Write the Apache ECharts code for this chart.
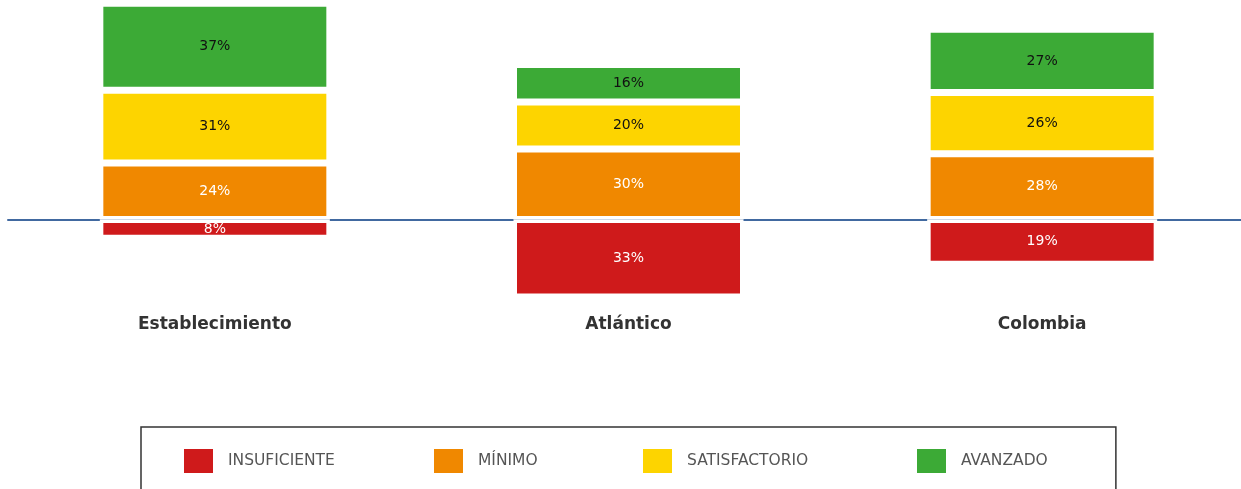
<!DOCTYPE html>
<html>
<head>
<meta charset="utf-8">
<script src="https://cdn.jsdelivr.net/npm/echarts@6/dist/echarts.min.js"></script>
<style>
html, body { margin: 0; padding: 0; background: #fff; overflow: hidden; }
/* chart box runs a bit past the window top and right, like the original crop */
#main { position: absolute; left: 0; top: -20px; width: 1249px; height: 509px; }
</style>
</head>
<body>
<div id="main"></div>
<script>
var categories = ['Establecimiento', 'Atlántico', 'Colombia']
var levels = ['INSUFICIENTE', 'MÍNIMO', 'SATISFACTORIO', 'AVANZADO']
var insuficiente = [8, 33, 19]
var minimo = [24, 30, 28]
var satisfactorio = [31, 20, 26]
var avanzado = [37, 16, 27]

var chartDom = document.getElementById('main')
var myChart = echarts.init(chartDom)

function pct (p) {
  return Math.abs(p.value) + '%'
}

function barSeries (name, values, color, textColor) {
  return {
    name: name,
    type: 'bar',
    stack: 'total',
    barWidth: '55.6%',
    data: values,
    itemStyle: { color: color, borderColor: '#fff', borderWidth: 3.5 },
    label: {
      show: true,
      position: 'inside',
      formatter: pct,
      color: textColor,
      fontFamily: 'DejaVu Sans',
      fontSize: 14
    }
  }
}

// the legend entries are unevenly spaced in the original, so one legend per entry;
// the first one carries the frame
var legendLefts = [141, 432, 641, 915]

function legendFor (i) {
  var lg = {
    left: legendLefts[i],
    top: 467,
    padding: 0,
    itemWidth: 31,
    itemHeight: 26,
    icon: 'rect',
    data: [levels[i]],
    textStyle: { color: '#555', fontFamily: 'DejaVu Sans', fontSize: 15.5, padding: [0, 0, 0, 9] }
  }
  if (i === 0) {
    lg.top = 447
    lg.padding = [20, 781, 20, 41]
    lg.borderColor = '#333'
    lg.borderWidth = 1.5
  }
  return lg
}

var option = {
  animation: false,
  grid: { left: 8, right: 0, top: 4.5, height: 329 },
  legend: levels.map(function (n, i) { return legendFor(i) }),
  xAxis: [
    {
      type: 'category',
      data: categories,
      position: 'bottom',
      axisLine: { show: false, onZero: false },
      axisTick: { show: false },
      axisLabel: { margin: 3, color: '#333', fontFamily: 'DejaVu Sans', fontWeight: 'bold', fontSize: 17 }
    },
    {
      type: 'category',
      data: categories,
      position: 'top',
      axisLine: { show: true, onZero: true, lineStyle: { color: '#4169a0', width: 2 } },
      axisTick: { show: false },
      axisLabel: { show: false }
    }
  ],
  yAxis: {
    type: 'value',
    min: -40,
    max: 100,
    axisLine: { show: false },
    axisTick: { show: false },
    axisLabel: { show: false },
    splitLine: { show: false }
  },
  series: [
    barSeries(levels[0], insuficiente.map(function (v) { return -v }), '#cf1a1b', '#fff'),
    barSeries(levels[1], minimo, '#f08800', '#fff'),
    barSeries(levels[2], satisfactorio, '#fdd400', '#111'),
    barSeries(levels[3], avanzado, '#3caa36', '#111')
  ]
}

myChart.setOption(option)
</script>
</body>
</html>
